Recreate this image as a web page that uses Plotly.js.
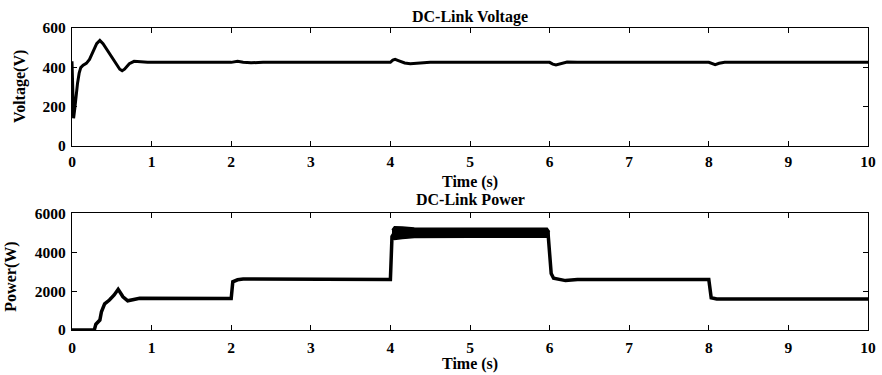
<!DOCTYPE html>
<html>
<head>
<meta charset="utf-8">
<script src="https://cdn.plot.ly/plotly-3.0.1.min.js"></script>
<style>
  html, body { margin: 0; padding: 0; background: #fff; }
  #chart { width: 882px; height: 375px; }
</style>
</head>
<body>
<div id="chart"></div>
<script>
// ---- Data ----
// DC-link voltage (V) vs time (s)
const voltTime = [0, 0.005, 0.012, 0.02, 0.035, 0.05, 0.07, 0.09, 0.11, 0.14, 0.18, 0.22, 0.31, 0.35, 0.39, 0.6, 0.63, 0.66, 0.72, 0.78, 0.85, 0.95,
                  2.0, 2.04, 2.08, 2.15, 2.25, 2.4,
                  4.0, 4.03, 4.06, 4.1, 4.18, 4.25, 4.35, 4.5,
                  6.0, 6.04, 6.08, 6.14, 6.22, 6.35, 6.5,
                  8.0, 8.04, 8.08, 8.13, 8.2, 10];
const voltage  = [430, 330, 200, 140, 190, 250, 320, 370, 398, 410, 420, 440, 520, 537, 520, 390, 382, 390, 418, 430, 428, 425,
                  425, 430, 431, 426, 423, 425,
                  425, 436, 440, 434, 422, 418, 421, 425,
                  425, 416, 412, 418, 427, 426, 425,
                  425, 418, 413, 420, 425, 425];

// DC-link power (W) vs time (s)
const powTime = [0, 0.28, 0.3, 0.33, 0.35, 0.37, 0.41, 0.47, 0.53, 0.58, 0.64, 0.7, 0.78, 0.85, 2.0, 2.02, 2.08, 2.15, 4.0, 4.02, 4.05, 5.98, 6.02, 6.05, 6.2, 6.35, 8.0, 8.03, 8.1, 10];
const power   = [0, 0, 300, 420, 510, 940, 1340, 1540, 1800, 2090, 1710, 1500, 1560, 1630, 1620, 2480, 2580, 2620, 2600, 4800, 5000, 5000, 2900, 2660, 2540, 2600, 2600, 1660, 1600, 1600];

// Oscillation envelope of power between 4 s and 6 s
const bandTime  = [4.02, 4.05, 4.15, 4.3, 5.0, 5.97, 6.0];
const bandUpper = [5150, 5310, 5290, 5240, 5230, 5230, 5050];
const bandLower = [4700, 4660, 4700, 4760, 4770, 4770, 4700];

const xTicks = [0, 1, 2, 3, 4, 5, 6, 7, 8, 9, 10];
const voltTicks = [0, 200, 400, 600];
const powTicks = [0, 2000, 4000, 6000];

const titleTop = 'DC-Link Voltage';
const titleBottom = 'DC-Link Power';
const xLabel = 'Time (s)';
const yLabelTop = 'Voltage(V)';
const yLabelBottom = 'Power(W)';

// ---- Chart ----
const FONT = 'Liberation Serif, Times New Roman, serif';
const tickFont = { family: FONT, size: 15.5, color: '#000', weight: 'bold' };
const titleFont = { family: FONT, size: 16, color: '#000', weight: 'bold' };

const traces = [
  { x: voltTime, y: voltage, xaxis: 'x', yaxis: 'y', mode: 'lines',
    line: { color: '#000', width: 3 }, hoverinfo: 'skip' },
  { x: bandTime, y: bandLower, xaxis: 'x2', yaxis: 'y2', mode: 'lines',
    line: { color: '#000', width: 1.5 }, hoverinfo: 'skip' },
  { x: bandTime, y: bandUpper, xaxis: 'x2', yaxis: 'y2', mode: 'lines', fill: 'tonexty',
    fillcolor: '#000', line: { color: '#000', width: 1.5 }, hoverinfo: 'skip' },
  { x: powTime, y: power, xaxis: 'x2', yaxis: 'y2', mode: 'lines',
    line: { color: '#000', width: 3.5 }, hoverinfo: 'skip' }
];

function xAxis(anchor, standoff) {
  return {
    anchor: anchor, range: [0, 10], tickvals: xTicks, ticktext: xTicks.map(String),
    ticks: 'inside', ticklen: 5, tickwidth: 1, tickcolor: '#000',
    showline: true, linecolor: '#000', linewidth: 1.2, mirror: 'ticks',
    showgrid: false, zeroline: false, tickfont: tickFont, ticklabelstandoff: standoff
  };
}
function yAxis(anchor, domain, range, ticks) {
  return {
    anchor: anchor, domain: domain, range: range, tickvals: ticks, ticktext: ticks.map(String),
    ticks: 'inside', ticklen: 5, tickwidth: 1, tickcolor: '#000',
    showline: true, linecolor: '#000', linewidth: 1.2, mirror: 'ticks',
    showgrid: false, zeroline: false, tickfont: tickFont, ticklabelstandoff: 2
  };
}

const layout = {
  width: 882, height: 375,
  margin: { l: 72, r: 14, t: 28, b: 45 },
  paper_bgcolor: '#fff', plot_bgcolor: '#fff',
  showlegend: false,
  xaxis: xAxis('y', 1),
  yaxis: yAxis('x', [0.61, 1.0], [0, 600], voltTicks),
  xaxis2: xAxis('y2', 3),
  yaxis2: yAxis('x2', [0, 0.3864], [0, 6000], powTicks),
  annotations: [
    { text: titleTop, xref: 'paper', yref: 'paper', x: 0.5, y: 1.036, xanchor: 'center', yanchor: 'middle', showarrow: false, font: titleFont },
    { text: xLabel, xref: 'paper', yref: 'paper', x: 0.5, y: 0.491, xanchor: 'center', yanchor: 'middle', showarrow: false, font: titleFont },
    { text: titleBottom, xref: 'paper', yref: 'paper', x: 0.5, y: 0.433, xanchor: 'center', yanchor: 'middle', showarrow: false, font: titleFont },
    { text: xLabel, xref: 'paper', yref: 'paper', x: 0.5, y: -0.114, xanchor: 'center', yanchor: 'middle', showarrow: false, font: titleFont },
    { text: yLabelTop, xref: 'paper', yref: 'paper', x: -0.0653, y: 0.805, xanchor: 'center', yanchor: 'middle', textangle: -90, showarrow: false, font: titleFont },
    { text: yLabelBottom, xref: 'paper', yref: 'paper', x: -0.076, y: 0.175, xanchor: 'center', yanchor: 'middle', textangle: -90, showarrow: false, font: titleFont }
  ]
};

Plotly.newPlot('chart', traces, layout, { staticPlot: true, displayModeBar: false });
</script>
</body>
</html>
